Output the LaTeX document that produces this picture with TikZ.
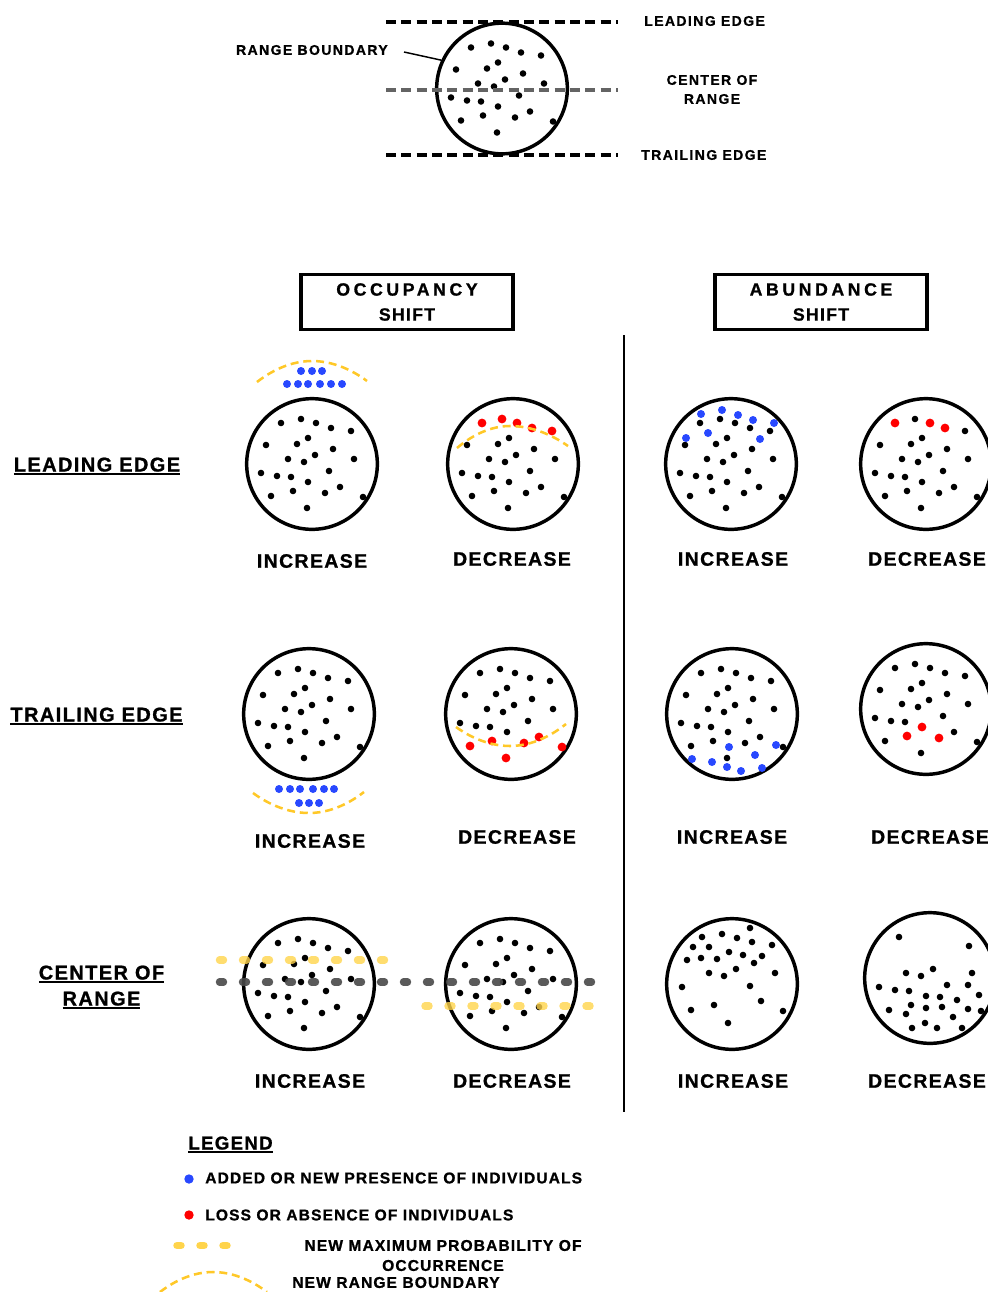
\documentclass[tikz,border=0pt]{standalone}
\usepackage{fontspec}
\setmainfont{Liberation Sans}[LetterSpace=7, BoldFeatures={FakeBold=1}]
\usetikzlibrary{calc}

\definecolor{addblue}{RGB}{40,72,255}
\definecolor{lossred}{RGB}{255,0,0}
\definecolor{boundyellow}{RGB}{255,200,40}
\definecolor{probyellow}{RGB}{255,212,75}
\definecolor{centregray}{RGB}{72,72,72}
\definecolor{topgray}{RGB}{100,100,100}

\newcommand{\noteFont}{\bfseries\fontsize{10.5}{14.25}\selectfont\addfontfeature{LetterSpace=10}}
\newcommand{\rowFont}{\bfseries\fontsize{15}{19.5}\selectfont}
\newcommand{\caseFont}{\bfseries\fontsize{14.6}{17}\selectfont}
\newcommand{\headFont}{\bfseries\fontsize{13.3}{18.75}\selectfont}
\newcommand{\legFont}{\bfseries\fontsize{11.7}{15}\selectfont}
\newcommand{\legHeadFont}{\bfseries\fontsize{14}{17}\selectfont}
\newcommand{\ulbl}[1]{\vtop{\hbox{#1}\kern0.8pt\hrule height 1.5pt}}

% individuals inside a range, offsets from the centre (px)
\newcommand{\basedots}{-31/-41,-11/-45,4/-41,19/-36,39/-33,-46/-19,-15/-20,-4/-26,21/-15,-24/-5,-8/-2,3/-9,42/-5,-51/9,-35/12,-21/13,17/7,-4/18,-41/32,-19/27,13/29,28/23,51/33,-5/44}
\newcommand{\popdots}[3]{%
  \begin{scope}[shift={(#1.center)}]
    \foreach \dx/\dy in #3 {\fill[#2] (\dx,\dy) circle;}
  \end{scope}}

\tikzset{
  rangecirc/.style={circle, draw, line width=2.6pt, minimum size=98pt, inner sep=0pt},
  indiv/.style={fill=black, radius=3.3},
  gain/.style={fill=addblue, radius=4},
  loss/.style={fill=lossred, radius=4.4},
  newbound/.style={draw=boundyellow, line width=1.9pt, dash pattern=on 6pt off 3.6pt},
  maxprob/.style={draw=probyellow, line width=5.6pt, line cap=round, dash pattern=on 3pt off 14.25pt, opacity=.8},
  centreline/.style={draw=centregray, line width=5.6pt, line cap=round, dash pattern=on 3pt off 14.25pt, opacity=.9},
  edgeline/.style={line width=2.6pt, dash pattern=on 7.5pt off 4pt},
  lbl/.style={inner sep=0pt},
  headbox/.style={draw, line width=2.6pt, minimum width=159pt, minimum height=41pt, align=center, font=\headFont},
}

\begin{document}
\begin{tikzpicture}[x=0.75pt,y=-0.75pt]
\useasboundingbox (0,0) rectangle (988,1292);

% range sketch
\node[rangecirc] (rangeCirc) at (502,88.5) {};
\popdots{rangeCirc}{indiv}{\basedots}
\draw[edgeline] (386,22) -- (618,22);
\draw[edgeline, draw=topgray] (386,90) -- (618,90);
\draw[edgeline] (386,155) -- (618,155);
\node[lbl, font=\noteFont, anchor=east] (boundLbl) at (388,50) {RANGE BOUNDARY};
\draw[line width=1.1pt] ([xshift=12pt,yshift=-1.5pt]boundLbl.east) -- (rangeCirc.155);
\node[lbl, font=\noteFont, anchor=west] (leadLbl) at (644,21) {LEADING EDGE};
\node[lbl, font=\noteFont, align=center] (centreLbl) at (712,89.5) {CENTER OF\\RANGE};
\node[lbl, font=\noteFont, anchor=west] (trailLbl) at (641,155) {TRAILING EDGE};

% column heads
\node[headbox] (occHead) at (407,302) {{\addfontfeature{LetterSpace=20}OCCUPANCY}\\SHIFT};
\node[headbox] (abuHead) at (821,302) {{\addfontfeature{LetterSpace=20}ABUNDANCE}\\SHIFT};
\draw[line width=1.9pt] (624,335) -- (624,1112);

% row heads
\node[lbl, font=\rowFont, anchor=base] (leadRow) at (97,471.5) {\ulbl{LEADING EDGE}};
\node[lbl, font=\rowFont, anchor=base] (trailRow) at (96.5,721.5) {\ulbl{TRAILING EDGE}};
\node[lbl, font=\rowFont, anchor=base, align=center] (centreRow) at (101.5,1005.5) {\ulbl{CENTER OF}\\\ulbl{RANGE}};

% leading edge
\node[rangecirc] (occLeadInc) at (312,464) {};
\popdots{occLeadInc}{indiv}{\basedots}
\popdots{occLeadInc}{gain}{{-11/-93,0/-93,10/-93,-25/-80,-14/-80,-4/-80,8/-80,19/-80,30/-80}}
\draw[newbound] (257,382) parabola bend (312,361) (367,381);
\node[lbl, font=\caseFont] (occLeadIncTxt) at (312,561) {INCREASE};

\node[rangecirc] (occLeadDec) at (513,464) {};
\popdots{occLeadDec}{indiv}{\basedots}
\popdots{occLeadDec}{loss}{{-31/-41,-11/-45,4/-41,19/-36,39/-33}}
\draw[newbound] (457,448) parabola bend (510,426) (568,446);
\node[lbl, font=\caseFont] (occLeadDecTxt) at (512,559) {DECREASE};

\node[rangecirc] (abuLeadInc) at (731,464) {};
\popdots{abuLeadInc}{indiv}{\basedots}
\popdots{abuLeadInc}{gain}{{-30/-50,-9/-54,7/-49,22/-44,43/-41,-45/-26,-23/-31,29/-25}}
\node[lbl, font=\caseFont] (abuLeadIncTxt) at (733,559) {INCREASE};

\node[rangecirc] (abuLeadDec) at (926,464) {};
\popdots{abuLeadDec}{indiv}{\basedots}
\popdots{abuLeadDec}{loss}{{-31/-41,4/-41,19/-36}}
\node[lbl, font=\caseFont] (abuLeadDecTxt) at (927,559) {DECREASE};

% trailing edge
\node[rangecirc] (occTrailInc) at (309,714) {};
\popdots{occTrailInc}{indiv}{\basedots}
\popdots{occTrailInc}{gain}{{-30/75,-19/75,-9/75,4/75,15/75,25/75,-10/89,0/89,10/89}}
\draw[newbound] (253,793) parabola bend (309,813) (364,792);
\node[lbl, font=\caseFont] (occTrailIncTxt) at (310,841) {INCREASE};

\node[rangecirc] (occTrailDec) at (511,714) {};
\popdots{occTrailDec}{indiv}{\basedots}
\popdots{occTrailDec}{loss}{{-41/32,-19/27,13/29,28/23,51/33,-5/44}}
\draw[newbound] (456,727) parabola bend (510,746) (566,724);
\node[lbl, font=\caseFont] (occTrailDecTxt) at (517,837) {DECREASE};

\node[rangecirc] (abuTrailInc) at (732,714) {};
\popdots{abuTrailInc}{indiv}{\basedots}
\popdots{abuTrailInc}{gain}{{-3/33,-40/45,-20/48,-5/53,9/57,23/41,30/54,44/31}}
\node[lbl, font=\caseFont] (abuTrailIncTxt) at (732,837) {INCREASE};

\node[rangecirc] (abuTrailDec) at (926,709) {};
\popdots{abuTrailDec}{indiv}{\basedots}
\popdots{abuTrailDec}{loss}{{-4/18,-19/27,13/29}}
\node[lbl, font=\caseFont] (abuTrailDecTxt) at (930,837) {DECREASE};

% center of range
\node[rangecirc] (occCentreInc) at (309,984) {};
\popdots{occCentreInc}{indiv}{\basedots}
\node[rangecirc] (occCentreDec) at (511,984) {};
\popdots{occCentreDec}{indiv}{\basedots}
\draw[centreline] (219.5,982) -- (608,982);
\draw[maxprob] (219.5,960) -- (402,960);
\draw[maxprob] (425,1006) -- (608,1006);
\node[lbl, font=\caseFont] (occCentreIncTxt) at (310,1081) {INCREASE};
\node[lbl, font=\caseFont] (occCentreDecTxt) at (512,1081) {DECREASE};

\node[rangecirc] (abuCentreInc) at (732,984) {};
\popdots{abuCentreInc}{indiv}{{-30/-47,-10/-50,5/-46,18/-56,-39/-37,-23/-37,20/-42,40/-39,-45/-24,-31/-26,-15/-25,-3/-32,11/-29,22/-21,30/-28,-23/-11,-8/-8,4/-15,43/-11,-50/3,18/2,-18/21,29/17,-41/26,-4/39,51/27}}
\node[lbl, font=\caseFont] (abuCentreIncTxt) at (733,1081) {INCREASE};

\node[rangecirc] (abuCentreDec) at (930,978) {};
\popdots{abuCentreDec}{indiv}{{-31/-41,39/-32,-24/-5,-9/-2,3/-9,42/-5,-51/9,-35/12,-21/13,17/7,38/7,-4/18,10/19,27/22,49/17,-41/32,-19/27,-4/30,12/29,38/31,51/33,-24/36,23/39,-5/45,-18/50,7/50,32/50}}
\node[lbl, font=\caseFont] (abuCentreDecTxt) at (927,1081) {DECREASE};

% legend
\node[lbl, font=\legHeadFont, anchor=base] (legHead) at (230.5,1149.5) {\ulbl{LEGEND}};
\fill[addblue] (189,1179) circle (4.7);
\node[lbl, font=\legFont, anchor=west] (legGain) at (205,1178) {ADDED OR NEW PRESENCE OF INDIVIDUALS};
\fill[lossred] (189,1215) circle (4.7);
\node[lbl, font=\legFont, anchor=west] (legLoss) at (205,1215) {LOSS OR ABSENCE OF INDIVIDUALS};
\draw[maxprob, opacity=1] (177,1245.5) -- (227,1245.5);
\node[lbl, font=\legFont, align=center] (legProb) at (443,1255.5) {NEW MAXIMUM PROBABILITY OF\\OCCURRENCE};
\draw[newbound] (160,1292) parabola bend (213,1272) (267,1292);
\node[lbl, font=\legFont] (legBound) at (396,1282.5) {NEW RANGE BOUNDARY};
\end{tikzpicture}
\end{document}
